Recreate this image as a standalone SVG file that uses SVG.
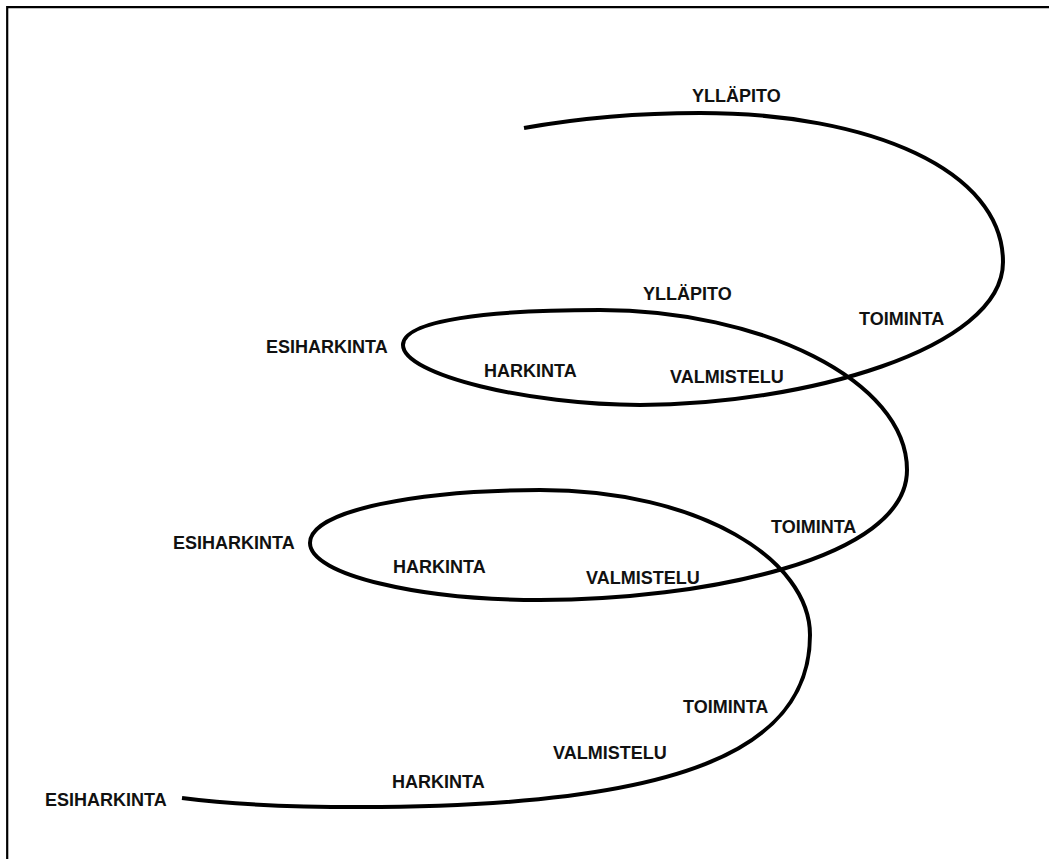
<svg xmlns="http://www.w3.org/2000/svg" width="1049" height="859" viewBox="0 0 1049 859">
<style>
.lbl{font-family:"Liberation Sans",Arial,sans-serif;font-weight:bold;font-size:18px;fill:#111}
.curve{fill:none;stroke:#000;stroke-width:4;stroke-linecap:butt;stroke-linejoin:round}
.frame{fill:none;stroke:#000;stroke-width:2.2}
</style>
<rect x="0" y="0" width="1049" height="859" fill="#fff"/>
<path class="frame" d="M7.2,859 V7.2 H1049"/>
<g id="connectors">
<path class="curve" d="M524,128 C580,118 640,113 700,113 C870,113 1003,170 1003,262 C1003,350 800,405 640,405 C530,405 403,375 403,345 C403,320 490,310 600,310 C760,310 907,380 907,470 C907,560 700,600 540,600 C420,600 310,575 310,543 C310,510 420,490 540,490 C700,490 810,560 810,635 C810,750 680,807 360,807 C280,807 220,803 182,798"/>
</g>
<g id="yllapito-3"><text class="lbl" x="692" y="102">YLLÄPITO</text></g>
<g id="yllapito-2"><text class="lbl" x="643" y="300">YLLÄPITO</text></g>
<g id="toiminta-3"><text class="lbl" x="859" y="325">TOIMINTA</text></g>
<g id="esiharkinta-3"><text class="lbl" x="266" y="353">ESIHARKINTA</text></g>
<g id="harkinta-3"><text class="lbl" x="484" y="377">HARKINTA</text></g>
<g id="valmistelu-3"><text class="lbl" x="670" y="383">VALMISTELU</text></g>
<g id="toiminta-2"><text class="lbl" x="771" y="533">TOIMINTA</text></g>
<g id="esiharkinta-2"><text class="lbl" x="173" y="549">ESIHARKINTA</text></g>
<g id="harkinta-2"><text class="lbl" x="393" y="573">HARKINTA</text></g>
<g id="valmistelu-2"><text class="lbl" x="586" y="584">VALMISTELU</text></g>
<g id="toiminta-1"><text class="lbl" x="683" y="713">TOIMINTA</text></g>
<g id="valmistelu-1"><text class="lbl" x="553" y="759">VALMISTELU</text></g>
<g id="harkinta-1"><text class="lbl" x="392" y="788">HARKINTA</text></g>
<g id="esiharkinta-1"><text class="lbl" x="45" y="806">ESIHARKINTA</text></g>
</svg>
